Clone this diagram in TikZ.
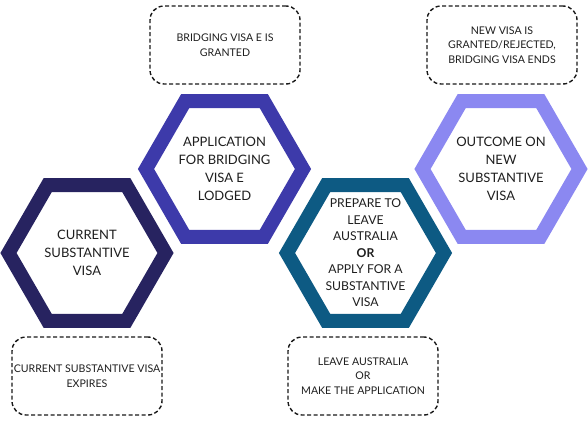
\documentclass[tikz,border=0pt]{standalone}
\usepackage{fontspec}
\setmainfont{Lato}
\definecolor{hexA}{HTML}{272360}
\definecolor{hexB}{HTML}{3D3AAA}
\definecolor{hexC}{HTML}{0D5A83}
\definecolor{hexD}{HTML}{8B88F1}
\definecolor{txt}{HTML}{1E1E1E}
\tikzset{
  hexring/.style={line width=14pt, line join=miter},
  hextext/.style={align=center, text=txt, font=\fontsize{13}{18}\selectfont, inner sep=0pt},
  hextextsmall/.style={align=center, text=txt, font=\fontsize{12.2}{16.5}\selectfont, inner sep=0pt},
  notebox/.style={draw=black!90, line width=1.4pt, dash pattern=on 4pt off 2.5pt, rounded corners=14pt,
    minimum width=150pt, minimum height=78pt, align=center, text=txt, inner sep=0pt,
    font=\fontsize{10.6}{14.6}\selectfont}
}
\newcommand\hexring[3]{%
  \draw[hexring, draw=#3] (#1+78.5,#2) -- ++(120:78.5) -- ++(180:78.5) -- ++(240:78.5)
    -- ++(300:78.5) -- ++(0:78.5) -- cycle;}
\begin{document}
\begin{tikzpicture}[x=1pt,y=-1pt]
\useasboundingbox (0,0) rectangle (588,422);
\hexring{87}{253}{hexA}
\hexring{224.5}{169}{hexB}
\hexring{365.5}{253}{hexC}
\hexring{501}{169}{hexD}
\node[hextext] (h1) at (87,253) {CURRENT\\SUBSTANTIVE\\VISA};
\node[hextext] (h2) at (224.5,169) {APPLICATION\\FOR BRIDGING\\VISA E\\LODGED};
\node[hextextsmall] (h3) at (365.5,253) {PREPARE TO\\LEAVE\\AUSTRALIA\\\textbf{OR}\\APPLY FOR A\\SUBSTANTIVE\\VISA};
\node[hextext] (h4) at (501,169) {OUTCOME ON\\NEW\\SUBSTANTIVE\\VISA};
\node[notebox] (b1) at (225,45) {BRIDGING VISA E IS\\GRANTED};
\node[notebox] (b2) at (502,45) {NEW VISA IS\\GRANTED/REJECTED,\\BRIDGING VISA ENDS};
\node[notebox] (b3) at (87,376) {CURRENT SUBSTANTIVE VISA\\EXPIRES};
\node[notebox] (b4) at (363,376) {LEAVE AUSTRALIA\\OR\\MAKE THE APPLICATION};
\end{tikzpicture}
\end{document}
